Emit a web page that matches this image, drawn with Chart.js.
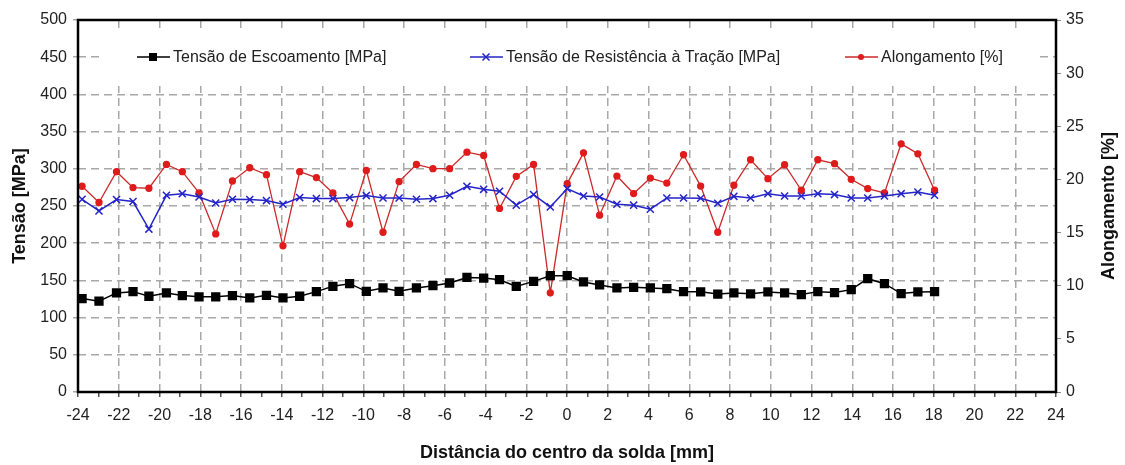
<!DOCTYPE html>
<html>
<head>
<meta charset="utf-8">
<script src="https://cdn.jsdelivr.net/npm/chart.js@4.4.1/dist/chart.umd.min.js"></script>
<style>
  body { margin: 0; background: #fff; }
</style>
</head>
<body>
<canvas id="grafico" width="1125" height="465"></canvas>
<script>
// distancia do centro da solda [mm]
const distancias = [-23.80, -22.97, -22.11, -21.30, -20.52, -19.66, -18.88, -18.06, -17.24, -16.42,
  -15.57, -14.75, -13.94, -13.12, -12.30, -11.49, -10.67, -9.85, -9.03, -8.24,
  -7.39, -6.58, -5.76, -4.91, -4.09, -3.31, -2.49, -1.64, -0.82, 0.01,
  0.81, 1.60, 2.45, 3.27, 4.09, 4.90, 5.72, 6.56, 7.40, 8.19,
  9.01, 9.86, 10.68, 11.50, 12.31, 13.13, 13.95, 14.76, 15.58, 16.40,
  17.22, 18.04];

const escoamento = [125.6, 122, 133.2, 134.9, 128.7, 133.2, 129.6, 127.9, 127.9, 129.6,
  126.5, 130, 126.5, 128.7, 134.9, 142, 145.6, 135.3, 139.9, 135.3,
  139.9, 142.9, 146.5, 154, 153.2, 150.9, 142, 148.7, 156.3, 156.3,
  147.9, 143.9, 139.9, 140.7, 139.9, 138.9, 134.9, 134.7, 131.6, 133.2,
  131.9, 134.5, 133.2, 130.9, 134.9, 133.6, 137.6, 152.3, 145.6, 132.3,
  134.5, 134.9];

const resistencia = [259, 243.4, 258.6, 256, 219, 264.4, 266.6, 262.1, 254.1, 259,
  258.6, 257.3, 252.4, 261.3, 260, 260, 261.3, 264, 260.8, 260.8,
  259, 260, 264.4, 276.4, 272.4, 269.8, 251.1, 265.3, 248.8, 273.3,
  263.4, 262.1, 252.4, 251.1, 245.7, 260.8, 260.8, 260.4, 253.7, 263,
  260.8, 266.6, 263.4, 263.4, 266.6, 265.3, 260.8, 260.8, 263.4, 266.6,
  268.8, 264.4];

const alongamento = [19.36, 17.83, 20.73, 19.23, 19.17, 21.41, 20.73, 18.73, 14.87, 19.85,
  21.10, 20.45, 13.75, 20.73, 20.17, 18.73, 15.80, 20.85, 15.03, 19.8,
  21.41, 21.01, 21.01, 22.56, 22.25, 17.27, 20.29, 21.41, 9.33, 19.61,
  22.50, 16.64, 20.32, 18.67, 20.13, 19.66, 22.32, 19.37, 15.03, 19.45,
  21.85, 20.07, 21.38, 18.98, 21.85, 21.48, 20.01, 19.14, 18.73, 23.35,
  22.41, 18.98];

const nomes = ['Tensão de Escoamento [MPa]', 'Tensão de Resistência à Tração [MPa]', 'Alongamento [%]'];

const fonte = '"Liberation Sans", Arial, sans-serif';
const cinza = '#a8a8a8';

function pontos(valores) {
  return valores.map((v, i) => ({ x: distancias[i], y: v }));
}

// marcador igual ao do grafico, usado na legenda
function marcador(ctx, tipo, cor, x, y) {
  ctx.fillStyle = cor;
  ctx.strokeStyle = cor;
  if (tipo == 'rect') {
    ctx.fillRect(x - 4, y - 4, 8, 8);
  } else if (tipo == 'crossRot') {
    ctx.lineWidth = 1.5;
    ctx.beginPath();
    ctx.moveTo(x - 3.5, y - 3.5); ctx.lineTo(x + 3.5, y + 3.5);
    ctx.moveTo(x - 3.5, y + 3.5); ctx.lineTo(x + 3.5, y - 3.5);
    ctx.stroke();
  } else {
    ctx.beginPath();
    ctx.arc(x, y, 3, 0, Math.PI * 2);
    ctx.fill();
  }
}

const extras = {
  id: 'extras',
  afterDraw(chart) {
    const ctx = chart.ctx;
    const a = chart.chartArea;
    ctx.save();

    // caixa da legenda dentro do grafico
    ctx.fillStyle = '#fff';
    ctx.fillRect(100, 30, 935, 56);
    const itens = [
      { x: 137, tipo: 'rect', cor: '#000', linha: '#000' },
      { x: 470, tipo: 'crossRot', cor: '#2424c8', linha: '#2424c8' },
      { x: 845, tipo: 'circle', cor: '#e01b1b', linha: '#cc2a2a' }
    ];
    ctx.font = '16px ' + fonte;
    ctx.textBaseline = 'middle';
    itens.forEach((it, i) => {
      const y = 57;
      ctx.strokeStyle = it.linha;
      ctx.lineWidth = 1.5;
      ctx.beginPath();
      ctx.moveTo(it.x, y);
      ctx.lineTo(it.x + 33, y);
      ctx.stroke();
      marcador(ctx, it.tipo, it.cor, it.x + 16, y);
      ctx.fillStyle = '#222';
      ctx.textAlign = 'left';
      ctx.fillText(nomes[i], it.x + 36, y + 1);
    });

    // moldura
    ctx.strokeStyle = '#000';
    ctx.lineWidth = 2.5;
    ctx.strokeRect(a.left, a.top, a.right - a.left, a.bottom - a.top);

    // titulos dos eixos
    ctx.fillStyle = '#111';
    ctx.font = 'bold 18px ' + fonte;
    ctx.textAlign = 'center';
    ctx.fillText('Distância do centro da solda [mm]', (a.left + a.right) / 2, 453);

    ctx.translate(20, (a.top + a.bottom) / 2);
    ctx.rotate(-Math.PI / 2);
    ctx.fillText('Tensão [MPa]', 0, 0);
    ctx.restore();

    ctx.save();
    ctx.fillStyle = '#111';
    ctx.font = 'bold 18px ' + fonte;
    ctx.textAlign = 'center';
    ctx.textBaseline = 'middle';
    ctx.translate(1109, (a.top + a.bottom) / 2);
    ctx.rotate(-Math.PI / 2);
    ctx.fillText('Alongamento [%]', 0, 0);
    ctx.restore();
  }
};

const ctx = document.getElementById('grafico').getContext('2d');
const grafico = new Chart(ctx, {
  type: 'line',
  data: {
    datasets: [{
      label: nomes[0],
      data: pontos(escoamento),
      borderColor: '#000',
      backgroundColor: '#000',
      borderWidth: 1.5,
      pointStyle: 'rect',
      pointRadius: 5.5,
      yAxisID: 'y'
    }, {
      label: nomes[1],
      data: pontos(resistencia),
      borderColor: '#2424c8',
      backgroundColor: '#2424c8',
      borderWidth: 1.5,
      pointStyle: 'crossRot',
      pointRadius: 5,
      pointBorderWidth: 1.5,
      yAxisID: 'y'
    }, {
      label: nomes[2],
      data: pontos(alongamento),
      borderColor: '#cc2a2a',
      backgroundColor: '#e01b1b',
      pointBorderColor: '#e01b1b',
      borderWidth: 1.3,
      pointStyle: 'circle',
      pointRadius: 3,
      yAxisID: 'y2'
    }]
  },
  options: {
    responsive: false,
    animation: false,
    devicePixelRatio: 1,
    layout: { padding: { top: 20, left: 0, right: 0, bottom: 0 } },
    plugins: {
      legend: { display: false },
      tooltip: { enabled: false }
    },
    scales: {
      x: {
        type: 'linear',
        min: -24,
        max: 24,
        afterFit: (s) => { s.height = 73; },
        border: { display: false, dash: [8, 5] },
        grid: {
          color: (c) => (c.tick && c.tick.value % 2 == 0) ? cinza : 'rgba(0,0,0,0)',
          lineWidth: 1.5,
          borderDash: [8, 5],
          tickColor: '#555',
          tickLength: 5,
          tickBorderDash: []
        },
        ticks: {
          stepSize: 1,
          autoSkip: false,
          maxRotation: 0,
          padding: 9,
          color: '#222',
          font: { family: fonte, size: 16 },
          callback: (v) => v % 2 == 0 ? v : ''
        }
      },
      y: {
        position: 'left',
        min: 0,
        max: 500,
        afterFit: (s) => { s.width = 78; },
        border: { display: false, dash: [8, 5] },
        grid: {
          color: cinza,
          lineWidth: 1.5,
          borderDash: [8, 5],
          tickColor: cinza,
          tickLength: 5,
          tickBorderDash: []
        },
        ticks: {
          stepSize: 50,
          padding: 6,
          color: '#222',
          font: { family: fonte, size: 16 }
        }
      },
      y2: {
        position: 'right',
        min: 0,
        max: 35,
        afterFit: (s) => { s.width = 69; },
        border: { display: false },
        grid: {
          drawOnChartArea: false,
          tickColor: '#888',
          tickLength: 5
        },
        ticks: {
          stepSize: 5,
          padding: 5,
          color: '#222',
          font: { family: fonte, size: 16 }
        }
      }
    }
  },
  plugins: [extras]
});
</script>
</body>
</html>
